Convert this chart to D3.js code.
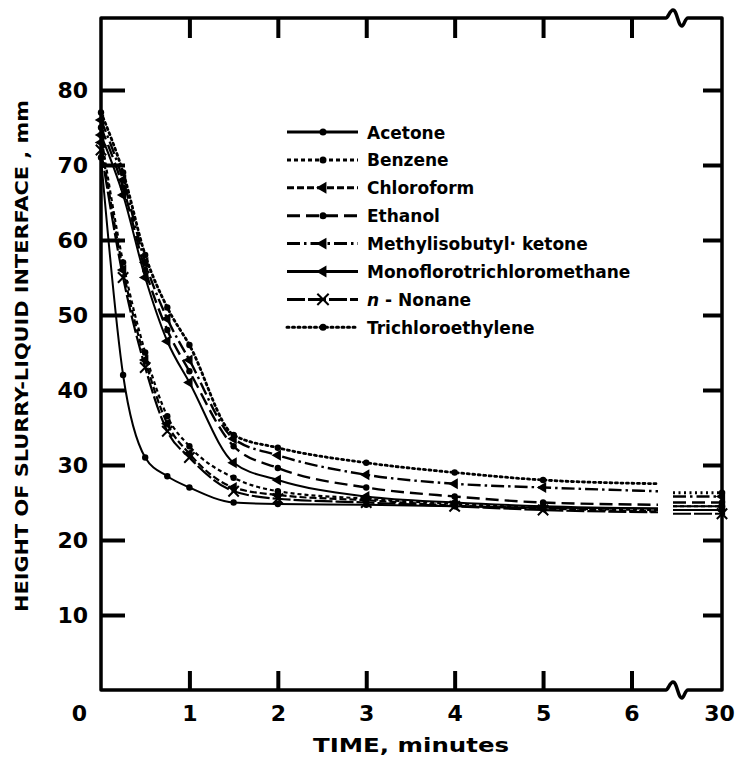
<!DOCTYPE html>
<html>
<head>
<meta charset="utf-8">
<script src="https://cdn.jsdelivr.net/npm/d3@7"></script>
<style>
  body { margin: 0; background: #fff; }
  svg { display: block; }
  .tick text { font-family: "DejaVu Sans", sans-serif; font-weight: bold; font-size: 22px; fill: #000; }
  .legend text { font-family: "DejaVu Sans", sans-serif; font-weight: bold; font-size: 17px; }
</style>
</head>
<body>
<svg id="chart"></svg>
<script>
// data (height in mm vs time in minutes)
let times = [0, 0.25, 0.5, 0.75, 1, 1.5, 2, 3, 4, 5, 6.3];
let names = ["Acetone", "Benzene", "Chloroform", "Ethanol", "Methylisobutyl\u00b7 ketone",
             "Monoflorotrichloromethane", "n-Nonane", "Trichloroethylene"];

let acetone    = [71, 42, 31, 28.5, 27, 25, 24.8, 24.7, 24.5, 24.3, 24.2];
let benzene    = [74, 57, 45, 36.5, 32.5, 28.3, 26.5, 25.5, 24.8, 24.3, 24.0];
let chloroform = [73, 56, 44, 35.5, 31.5, 27, 26, 25.3, 24.6, 24.2, 23.8];
let ethanol    = [75, 67, 56, 48, 42.5, 32.5, 29.6, 27, 25.8, 25, 24.7];
let mibk       = [76, 68, 57, 49.5, 44, 33.5, 31.3, 28.7, 27.5, 27, 26.5];
let monoflo    = [74, 66, 55, 46.5, 41, 30.3, 28, 25.8, 25, 24.5, 24.2];
let nonane     = [72, 55, 43, 34.5, 31, 26.5, 25.5, 25, 24.5, 24, 23.7];
let tce        = [77, 69, 58, 51, 46, 34, 32.3, 30.3, 29, 28, 27.5];

// value after 30 minutes (plotted past the axis break)
let at30 = [24, 24.5, 24, 25, 25.8, 24.5, 23.5, 26.3];

let xTicks = [0, 1, 2, 3, 4, 5, 6, 30];
let yTicks = [10, 20, 30, 40, 50, 60, 70, 80];

let allValues = [acetone, benzene, chloroform, ethanol, mibk, monoflo, nonane, tce];

// line style for each series
let styles = [
    { dash: null,          marker: "circle",   width: 2 },
    { dash: "4,3",         marker: "circle",   width: 2.2 },
    { dash: "7,3",         marker: "triangle", width: 2.2 },
    { dash: "13,6",        marker: "circle",   width: 2.4 },
    { dash: "13,4,2.5,4",  marker: "triangle", width: 2.4 },
    { dash: null,          marker: "triangle", width: 2 },
    { dash: "18,3",        marker: "x",        width: 2.2 },
    { dash: "2,3.5",       marker: "circle",   width: 2.8 }
];

let width = 740;
let height = 760;
let mLeft = 101, mRight = 722, mTop = 18, mBottom = 690;

let svg = d3.select("#chart").attr("width", width).attr("height", height);

// broken time axis: 0-6.3 min, then a short piece ending at 30 min
let x = d3.scaleLinear()
    .domain([0, 6.3, 29.4, 30])
    .range([mLeft, 658, 673, mRight]);
let y = d3.scaleLinear()
    .domain([0, 89.6])
    .range([mBottom, mTop]);

// frame with the break marks
let wave = "c2,0 4,-8 7,-8 c4,0 5,16 9,16 c2,0 3,-8 6,-8";
svg.append("path")
    .attr("d", `M${mLeft},${mTop} H666 ${wave} H${mRight} V${mBottom} H688 c-3,0 -4,8 -6,8 c-4,0 -5,-16 -9,-16 c-3,0 -5,8 -7,8 H${mLeft} Z`)
    .attr("fill", "none")
    .attr("stroke", "#000")
    .attr("stroke-width", 3.5)
    .attr("stroke-linejoin", "round");

// axes
let xAxis = svg.append("g")
    .attr("transform", `translate(0,${mBottom})`)
    .call(d3.axisBottom(x).tickValues(xTicks).tickSizeInner(-19).tickSizeOuter(0).tickPadding(15).tickFormat(d3.format("d")));
xAxis.select(".domain").remove();
xAxis.selectAll(".tick").filter(d => d == 0 || d == 30).select("line").remove();
xAxis.selectAll(".tick").filter(d => d == 0).select("text").attr("dx", -22);
xAxis.selectAll(".tick").filter(d => d == 30).select("text").attr("dx", -3);

let topAxis = svg.append("g")
    .attr("transform", `translate(0,${mTop})`)
    .call(d3.axisTop(x).tickValues([1, 2, 3, 4, 5, 6]).tickSizeInner(-20).tickSizeOuter(0).tickFormat(""));
topAxis.select(".domain").remove();

let yAxis = svg.append("g")
    .attr("transform", `translate(${mLeft},0)`)
    .call(d3.axisLeft(y).tickValues(yTicks).tickSizeInner(-24).tickSizeOuter(0).tickPadding(13));
yAxis.select(".domain").remove();

let rightAxis = svg.append("g")
    .attr("transform", `translate(${mRight},0)`)
    .call(d3.axisRight(y).tickValues(yTicks).tickSizeInner(-19).tickSizeOuter(0).tickFormat(""));
rightAxis.select(".domain").remove();

svg.selectAll(".tick line")
    .attr("stroke", "#000")
    .attr("stroke-width", 4);

// axis titles
svg.append("text")
    .attr("x", 411)
    .attr("y", 752)
    .attr("text-anchor", "middle")
    .attr("textLength", 196)
    .attr("lengthAdjust", "spacingAndGlyphs")
    .style("font-family", "'DejaVu Sans', sans-serif")
    .style("font-weight", "bold")
    .style("font-size", "19px")
    .text("TIME, minutes");

svg.append("text")
    .attr("transform", "translate(28,356) rotate(-90)")
    .attr("text-anchor", "middle")
    .attr("textLength", 512)
    .attr("lengthAdjust", "spacingAndGlyphs")
    .style("font-family", "'DejaVu Sans', sans-serif")
    .style("font-weight", "bold")
    .style("font-size", "17px")
    .text("HEIGHT OF SLURRY-LIQUID INTERFACE , mm");

// markers
function drawMarker(g, kind, px, py, size) {
    if (kind == "circle") {
        g.append("circle").attr("cx", px).attr("cy", py).attr("r", size).attr("fill", "#000");
    } else if (kind == "triangle") {
        g.append("path")
            .attr("d", d3.symbol(d3.symbolTriangle, size * size * 5)())
            .attr("transform", `translate(${px},${py}) rotate(-90)`)
            .attr("fill", "#000");
    } else {
        g.append("path")
            .attr("d", d3.symbol(d3.symbolX, size * size * 7)())
            .attr("transform", `translate(${px},${py})`)
            .attr("fill", "none")
            .attr("stroke", "#000")
            .attr("stroke-width", 2);
    }
}

let line = d3.line()
    .x(d => x(d[0]))
    .y(d => y(d[1]))
    .curve(d3.curveMonotoneX);

let plot = svg.append("g");

allValues.forEach((vals, i) => {
    let st = styles[i];
    let pts = times.map((t, j) => [t, vals[j]]);
    let g = plot.append("g");

    g.append("path")
        .attr("d", line(pts))
        .attr("fill", "none")
        .attr("stroke", "#000")
        .attr("stroke-width", st.width)
        .attr("stroke-dasharray", st.dash)
        .attr("stroke-linecap", st.dash == "2,3.5" ? "round" : "butt");

    pts.slice(0, pts.length - 1).forEach(p => {
        drawMarker(g, st.marker, x(p[0]), y(p[1]), 3.2);
    });

    // piece after the break
    g.append("line")
        .attr("x1", x(29.4))
        .attr("x2", x(30))
        .attr("y1", y(at30[i]))
        .attr("y2", y(at30[i]))
        .attr("stroke", "#000")
        .attr("stroke-width", st.width)
        .attr("stroke-dasharray", st.dash);
    drawMarker(g, st.marker, x(30), y(at30[i]), 3.2);
});

// legend
let legend = svg.append("g").attr("class", "legend");
names.forEach((name, i) => {
    let st = styles[i];
    let ly = 132 + i * 27.9;
    let row = legend.append("g");
    row.append("line")
        .attr("x1", 287)
        .attr("x2", 358)
        .attr("y1", ly)
        .attr("y2", ly)
        .attr("stroke", "#000")
        .attr("stroke-width", 3)
        .attr("stroke-dasharray", st.dash)
        .attr("stroke-linecap", st.dash == "2,3.5" ? "round" : "butt");
    drawMarker(row, st.marker, 323, ly, 3.5);
    let label = row.append("text")
        .attr("x", 367)
        .attr("y", ly + 6.5);
    if (name.startsWith("n-")) {
        label.append("tspan").style("font-style", "italic").text("n");
        label.append("tspan").text(" - Nonane");
    } else {
        label.text(name);
    }
});
</script>
</body>
</html>
